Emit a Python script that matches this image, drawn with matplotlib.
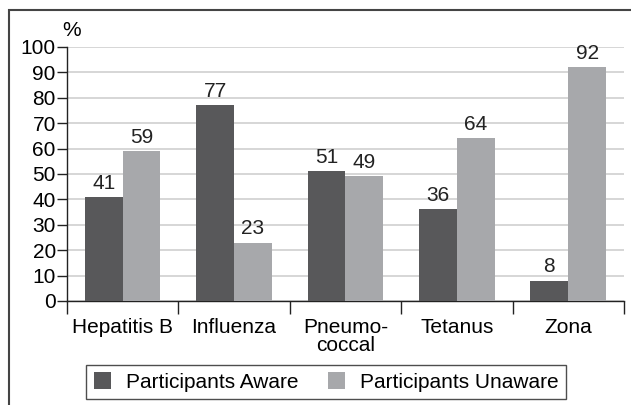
import numpy as np
import matplotlib.pyplot as plt
from matplotlib.patches import Rectangle

plt.rcParams['font.family'] = ['Liberation Sans', 'DejaVu Sans']

# vaccines and share of participants (%)
vaccines = ['Hepatitis B', 'Influenza', 'Pneumo-\ncoccal', 'Tetanus', 'Zona']
aware = [41, 77, 51, 36, 8]
unaware = [59, 23, 49, 64, 92]
series_names = ['Participants Aware', 'Participants Unaware']

dark = '#58585a'
light = '#a7a8ab'
fs = 15

fig = plt.figure(figsize=(6.31, 4.05), dpi=100)
ax = fig.add_axes([0.106, 0.257, 0.883, 0.627])

x = np.arange(len(vaccines))
w = 0.34
b1 = ax.bar(x - w/2, aware, w, color=dark, label=series_names[0], zorder=3)
b2 = ax.bar(x + w/2, unaware, w, color=light, label=series_names[1], zorder=3)

# value labels above bars
for bars in (b1, b2):
    for r in bars:
        ax.annotate(str(int(r.get_height())), (r.get_x() + r.get_width()/2, r.get_height()),
                    xytext=(0, 3), textcoords='offset points', ha='center', va='bottom',
                    fontsize=fs, color='#222222')

ax.set_xlim(-0.5, len(vaccines) - 0.5)
ax.set_ylim(0, 100)
ax.set_yticks(range(0, 101, 10))
ax.yaxis.grid(True, color='#cfcfcf', lw=1.2, zorder=0)
ax.set_axisbelow(True)

# ticks at category boundaries, labels in the middle
ax.set_xticks(np.arange(-0.5, len(vaccines), 1))
ax.set_xticklabels([])
ax.set_xticks(x, minor=True)
ax.set_xticklabels(vaccines, minor=True, fontsize=fs, linespacing=0.95)
ax.tick_params(axis='x', which='major', length=9, width=1, direction='out', color='#222222')
ax.tick_params(axis='x', which='minor', length=0, pad=12)
ax.tick_params(axis='y', length=7, width=1, labelsize=fs, pad=1, color='#222222')

for s in ['top', 'right']:
    ax.spines[s].set_visible(False)
for s in ['left', 'bottom']:
    ax.spines[s].set_color('#222222')
    ax.spines[s].set_linewidth(1)

fig.text(0.113, 0.925, '%', fontsize=fs, ha='center', va='center')

leg = fig.legend(handles=[b1, b2], loc='center', bbox_to_anchor=(0.517, 0.057),
                 ncol=2, fontsize=fs, frameon=True, fancybox=False,
                 handlelength=0.85, handleheight=0.85, handletextpad=0.7,
                 columnspacing=1.4, borderpad=0.35, borderaxespad=0)
leg.get_frame().set_edgecolor('#222222')
leg.get_frame().set_linewidth(1)

# outer frame (cut off at right and bottom)
fig.patches.append(Rectangle((9/631, -0.1), 1.2, 1.1 - 10/405, transform=fig.transFigure,
                             fill=False, edgecolor='#444444', lw=1.5))

fig.savefig('out.png', dpi=100)
